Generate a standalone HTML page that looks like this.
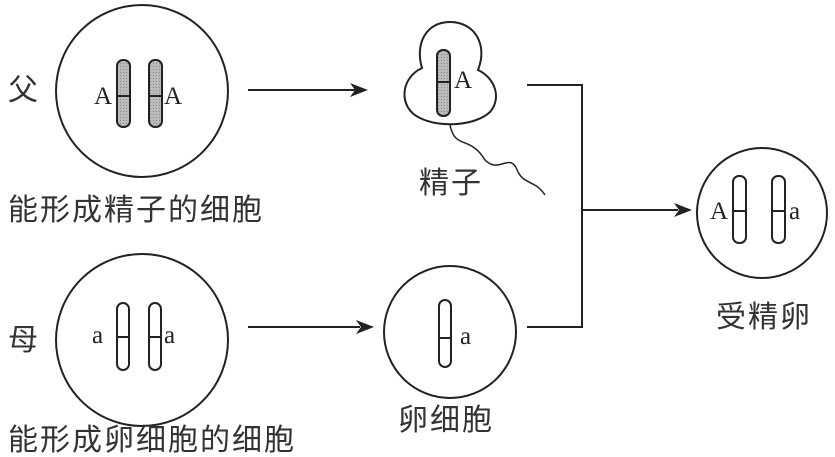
<!DOCTYPE html>
<html><head><meta charset="utf-8"><style>
html,body{margin:0;padding:0;background:#fff;width:835px;height:457px;overflow:hidden}
svg{display:block}
.cn{font-family:"Liberation Sans","Noto Sans CJK SC",sans-serif;font-size:30px;letter-spacing:2px;fill:#333}
.l{font-family:"Liberation Serif",serif;font-size:25px;fill:#222}
</style></head><body>
<svg width="835" height="457" viewBox="0 0 835 457">
<defs>
<pattern id="dots" width="3" height="3" patternUnits="userSpaceOnUse"><rect width="3" height="3" fill="#bbb"/><rect width="1" height="1" fill="#888"/></pattern>
</defs>
<g stroke="#222" stroke-width="2" fill="none">
<circle cx="142" cy="91" r="86"/>
<circle cx="142" cy="340" r="86"/>
<circle cx="450" cy="332" r="66"/>
<circle cx="762" cy="213" r="65"/>
<path d="M450,22 C425,22 415,45 422,68 C400,78 398,108 420,118 C440,128 475,126 490,112 C502,98 495,78 478,70 C488,45 475,22 450,22 Z"/>
<path d="M450,125 C455,150 470,135 485,160 C500,175 510,150 518,172 C525,185 535,180 545,195" stroke-width="1.5"/>
<line x1="248" y1="90" x2="355" y2="90"/>
<line x1="248" y1="327" x2="360" y2="327"/>
<polyline points="527,85 582,85 582,327 527,327"/>
<line x1="582" y1="210" x2="678" y2="210"/>
</g>
<g fill="#222">
<path d="M368,90 L350,83 L355,90 L350,97 Z"/>
<path d="M374,327 L356,320 L361,327 L356,334 Z"/>
<path d="M692,210 L674,203 L679,210 L674,217 Z"/>
</g>
<g stroke="#222" stroke-width="2">
<rect x="117" y="60" width="13" height="67" rx="6" fill="url(#dots)"/>
<rect x="149" y="60" width="13" height="67" rx="6" fill="url(#dots)"/>
<line x1="117" y1="96" x2="130" y2="96"/><line x1="149" y1="96" x2="162" y2="96"/>
<rect x="437" y="50" width="13" height="66" rx="6" fill="url(#dots)"/>
<line x1="437" y1="82" x2="450" y2="82"/>
<rect x="117" y="303" width="12" height="67" rx="6" fill="#fff"/>
<rect x="149" y="303" width="12" height="67" rx="6" fill="#fff"/>
<line x1="117" y1="337" x2="129" y2="337"/><line x1="149" y1="337" x2="161" y2="337"/>
<rect x="439" y="300" width="12" height="67" rx="6" fill="#fff"/>
<line x1="439" y1="338" x2="451" y2="338"/>
<rect x="733" y="176" width="13" height="67" rx="6" fill="#fff"/>
<rect x="772" y="176" width="13" height="67" rx="6" fill="#fff"/>
<line x1="733" y1="211" x2="746" y2="211"/><line x1="772" y1="211" x2="785" y2="211"/>
</g>
<text class="l" x="94" y="104">A</text><text class="l" x="164" y="104">A</text>
<text class="l" x="454" y="88">A</text>
<text class="l" x="92" y="343">a</text><text class="l" x="164" y="343">a</text>
<text class="l" x="460" y="344">a</text>
<text class="l" x="710" y="219">A</text><text class="l" x="789" y="219">a</text>
<text class="cn" x="8" y="100">父</text>
<text class="cn" x="8" y="350">母</text>
<text class="cn" x="8" y="220">能形成精子的细胞</text>
<text class="cn" x="8" y="450">能形成卵细胞的细胞</text>
<text class="cn" x="419" y="193">精子</text>
<text class="cn" x="398" y="430">卵细胞</text>
<text class="cn" x="716" y="327">受精卵</text>
</svg>
</body></html>
